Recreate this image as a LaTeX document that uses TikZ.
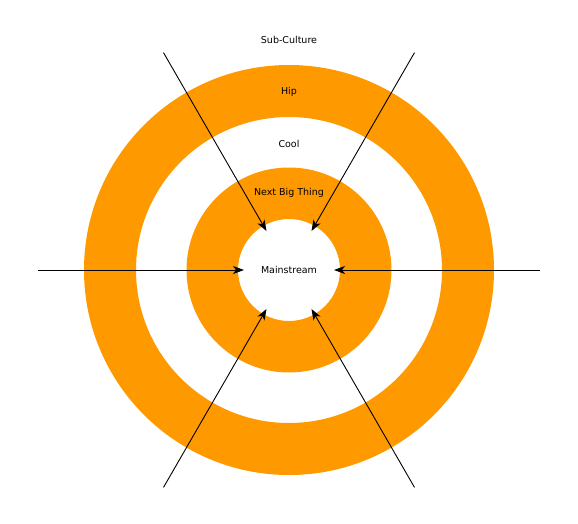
\documentclass[tikz,border=0pt]{standalone}
\usepackage{fontspec}
\setmainfont{DejaVu Sans}
\usetikzlibrary{arrows.meta}
\definecolor{ringorange}{HTML}{FF9900}
\begin{document}
\begin{tikzpicture}[x=1pt,y=1pt,
  ring/.style={fill=ringorange, even odd rule},
  ringtext/.style={font=\fontsize{9.5}{11}\selectfont, text=black, inner sep=0pt},
  feed/.style={line width=0.9pt, -{Stealth[length=11pt,width=8pt,inset=3pt]}}]
\useasboundingbox (-289,270) rectangle (289,-253);
% concentric orange bands
\fill[ring] (0,0) circle (205) (0,0) circle (153);
\fill[ring] (0,0) circle (102.5) (0,0) circle (51);
% the white core that all arrows point at
\node[circle, minimum size=90, inner sep=0pt, outer sep=0pt] (core) at (0,0) {};
% ring labels
\node[ringtext] (mainstream) at (0,0) {Mainstream};
\node[ringtext] (nextbig) at (0,77) {Next Big Thing};
\node[ringtext] (cool) at (0,126) {Cool};
\node[ringtext] (hip) at (0,178) {Hip};
\node[ringtext] (subculture) at (0,230) {Sub-Culture};
% outer ends of the arrows
\foreach \a/\n in {180/w, 0/e, 120/nw, 60/ne, 240/sw, 300/se}
  \coordinate (from\n) at (\a:251);
\foreach \n in {w, e, nw, ne, sw, se}
  \draw[feed] (from\n) -- (core);
\end{tikzpicture}
\end{document}
